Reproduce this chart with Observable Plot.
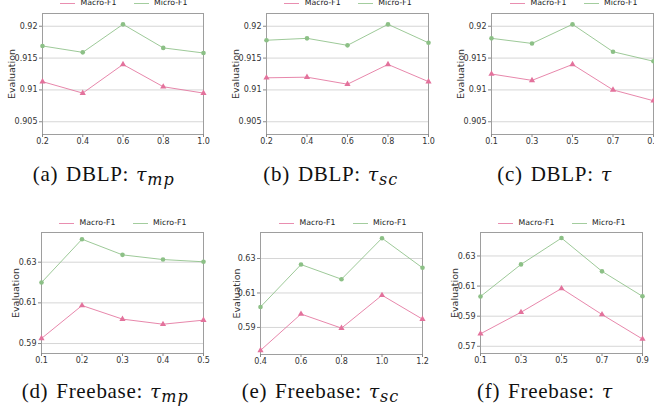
<!DOCTYPE html>
<html>
<head>
<meta charset="utf-8">
<script src="https://cdn.jsdelivr.net/npm/d3@7"></script>
<script src="https://cdn.jsdelivr.net/npm/@observablehq/plot@0.6"></script>
<style>
  html, body { margin: 0; padding: 0; background: #fff; }
  #root { position: relative; width: 654px; height: 408px; overflow: hidden; background: #fff; }
  .panel { position: absolute; }
  .legend { position: absolute; font-family: "DejaVu Sans", sans-serif; font-size: 7.8px; color: #222; white-space: nowrap; }
  .legend .sw { position: absolute; width: 15px; height: 0; }
  .legend .lb { position: absolute; line-height: 8px; }
  .cap { position: absolute; font-family: "Liberation Serif", serif; font-size: 21px; line-height: 21px; color: #111; white-space: nowrap; letter-spacing: 0.7px; }
  .cap .pre { margin-right: 8px; }
  .cap .tau { font-family: "DejaVu Serif", serif; font-style: italic; font-size: 19px; margin-left: 1px; }
  .cap .sub { font-family: "DejaVu Serif", serif; font-style: italic; font-size: 16px; position: relative; top: 4px; letter-spacing: 1px; }
</style>
</head>
<body>
<div id="root"></div>
<script>
// ---- data ----
const seriesNames = ["Macro-F1", "Micro-F1"];

const xA = [0.2, 0.4, 0.6, 0.8, 1.0];
const macroA = [0.9113, 0.9095, 0.9140, 0.9105, 0.9095];
const microA = [0.9169, 0.9159, 0.9203, 0.9166, 0.9158];

const xB = [0.2, 0.4, 0.6, 0.8, 1.0];
const macroB = [0.9119, 0.9120, 0.9109, 0.9140, 0.9113];
const microB = [0.9178, 0.9181, 0.9170, 0.9203, 0.9174];

const xC = [0.1, 0.3, 0.5, 0.7, 0.9];
const macroC = [0.9125, 0.9115, 0.9140, 0.9100, 0.9083];
const microC = [0.9181, 0.9173, 0.9203, 0.9160, 0.9145];

const xD = [0.1, 0.2, 0.3, 0.4, 0.5];
const macroD = [0.5925, 0.6087, 0.6020, 0.5995, 0.6015];
const microD = [0.6200, 0.6413, 0.6336, 0.6313, 0.6302];

const xE = [0.4, 0.6, 0.8, 1.0, 1.2];
const macroE = [0.5767, 0.5978, 0.5896, 0.6087, 0.5948];
const microE = [0.6019, 0.6265, 0.6180, 0.6418, 0.6246];

const xF = [0.1, 0.3, 0.5, 0.7, 0.9];
const macroF = [0.5783, 0.5926, 0.6084, 0.5911, 0.5748];
const microF = [0.6031, 0.6244, 0.6419, 0.6198, 0.6032];

const yTicksTop = [0.905, 0.91, 0.915, 0.92];
const yTicksD = [0.59, 0.61, 0.63];
const yTicksE = [0.59, 0.61, 0.63];
const yTicksF = [0.57, 0.59, 0.61, 0.63];

const yDomainTop = [0.903, 0.922];
const yDomainD = [0.5851, 0.6446];
const yDomainE = [0.5743, 0.6451];
const yDomainF = [0.5652, 0.6456];

const yLabel = "Evaluation";
const capPrefix = ["(a)", "(b)", "(c)", "(d)", "(e)", "(f)"];
const capDataset = ["DBLP", "DBLP", "DBLP", "Freebase", "Freebase", "Freebase"];
const capSub = ["mp", "sc", "", "mp", "sc", ""];

// ---- styles / layout (not data) ----
const colors = ["#e3729c", "#8cc086"];
const layout = [
  {fx: 42,  fy: 13,  fw: 161, fh: 121, lo: 34, lx: 60,    ly: 2.7,   cx: 32.7,  cy: 164},
  {fx: 266, fy: 13,  fw: 162, fh: 121, lo: 34, lx: 284.3, ly: 2.7,   cx: 263.3, cy: 164},
  {fx: 491, fy: 13,  fw: 162, fh: 121, lo: 34, lx: 510,   ly: 2.7,   cx: 497.3, cy: 164},
  {fx: 41,  fy: 232, fw: 162, fh: 121, lo: 29, lx: 59,    ly: 222.7, cx: 21.7,  cy: 381},
  {fx: 260, fy: 232, fw: 162, fh: 122, lo: 27, lx: 279,   ly: 222.7, cx: 241.7, cy: 381},
  {fx: 480, fy: 232, fw: 162, fh: 121, lo: 29, lx: 498,   ly: 222.7, cx: 477,   cy: 381}
];

const panels = [
  [xA, macroA, microA, yDomainTop, yTicksTop],
  [xB, macroB, microB, yDomainTop, yTicksTop],
  [xC, macroC, microC, yDomainTop, yTicksTop],
  [xD, macroD, microD, yDomainD, yTicksD],
  [xE, macroE, microE, yDomainE, yTicksE],
  [xF, macroF, microF, yDomainF, yTicksF]
];

const root = document.getElementById("root");
const mL = 45, mR = 8, mT = 5, mB = 16;

panels.forEach(([xs, macro, micro, yDomain, yTicks], i) => {
  const L = layout[i];
  const data = xs.flatMap((x, j) => [
    {x, y: macro[j], s: seriesNames[0]},
    {x, y: micro[j], s: seriesNames[1]}
  ]);
  const chart = Plot.plot({
    width: L.fw + mL + mR,
    height: L.fh + mT + mB,
    marginLeft: mL, marginRight: mR, marginTop: mT, marginBottom: mB,
    style: {fontFamily: "DejaVu Sans, sans-serif", background: "transparent", overflow: "visible", maxWidth: "none", color: "#333"},
    x: {domain: [xs[0], xs[xs.length - 1]]},
    y: {domain: yDomain},
    color: {domain: seriesNames, range: colors},
    symbol: {domain: seriesNames, range: ["triangle", "circle"]},
    marks: [
      Plot.gridY(yTicks, {stroke: "#d6d6d6", strokeOpacity: 1, strokeWidth: 1}),
      Plot.frame({stroke: "#9e9e9e"}),
      Plot.axisX(xs, {tickFormat: d3.format(".1f"), tickSize: 3, tickPadding: 1, fontSize: 8, label: null, stroke: "#888", fill: "#333"}),
      Plot.axisY(yTicks, {tickFormat: d3.format("~g"), tickSize: 3, tickPadding: 2, fontSize: 8, label: null, stroke: "#888", fill: "#333"}),
      Plot.axisY([], {label: yLabel, labelAnchor: "center", labelArrow: "none", labelOffset: L.lo, fontSize: 9.5, fill: "#333"}),
      Plot.line(data, {x: "x", y: "y", z: "s", stroke: "s", strokeWidth: 1, strokeOpacity: 0.85}),
      Plot.dot(data, {x: "x", y: "y", fill: "s", symbol: "s", r: 2.3, stroke: null})
    ]
  });
  const wrap = document.createElement("div");
  wrap.className = "panel";
  wrap.style.left = (L.fx - mL) + "px";
  wrap.style.top = (L.fy - mT) + "px";
  wrap.appendChild(chart);
  root.appendChild(wrap);

  // legend
  const lg = document.createElement("div");
  lg.className = "legend";
  lg.style.left = L.lx + "px";
  lg.style.top = L.ly + "px";
  seriesNames.forEach((name, k) => {
    const off = k * 73.5;
    const sw = document.createElement("span");
    sw.className = "sw";
    sw.style.left = off + "px";
    sw.style.top = "0px";
    sw.style.borderTop = "1px solid " + colors[k];
    sw.style.opacity = "0.8";
    const lb = document.createElement("span");
    lb.className = "lb";
    lb.style.left = (off + 20.5) + "px";
    lb.style.top = "-4px";
    lb.textContent = name;
    lg.appendChild(sw);
    lg.appendChild(lb);
  });
  root.appendChild(lg);

  // caption
  const cap = document.createElement("div");
  cap.className = "cap";
  cap.style.left = L.cx + "px";
  cap.style.top = L.cy + "px";
  const pre = document.createElement("span");
  pre.className = "pre";
  pre.textContent = capPrefix[i];
  cap.appendChild(pre);
  cap.appendChild(document.createTextNode(capDataset[i] + ": "));
  const tau = document.createElement("span");
  tau.className = "tau";
  tau.textContent = "τ";
  cap.appendChild(tau);
  if (capSub[i]) {
    const sub = document.createElement("span");
    sub.className = "sub";
    sub.textContent = capSub[i];
    cap.appendChild(sub);
  }
  root.appendChild(cap);
});
</script>
</body>
</html>
